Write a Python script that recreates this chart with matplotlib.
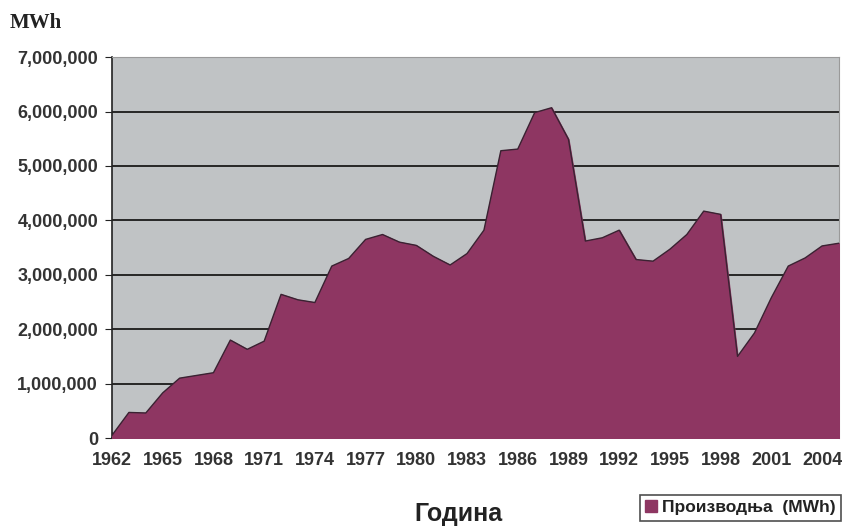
import matplotlib
matplotlib.use('Agg')
from matplotlib import pyplot as plt
from matplotlib.ticker import FuncFormatter, MultipleLocator

# Производња по годинама (MWh), очитано са графика
godine = list(range(1962, 2006))
proizvodnja = [
    50000, 470000, 460000, 830000, 1100000, 1150000, 1200000, 1800000,
    1630000, 1780000, 2640000, 2540000, 2490000, 3160000, 3300000, 3650000,
    3740000, 3600000, 3540000, 3340000, 3180000, 3390000, 3820000, 5280000,
    5310000, 5980000, 6070000, 5490000, 3620000, 3680000, 3820000, 3280000,
    3250000, 3470000, 3740000, 4170000, 4110000, 1500000, 1930000, 2580000,
    3160000, 3310000, 3530000, 3580000,
]
oznake_godina = list(range(1962, 2005, 3))

BOJA_POVRSINE = '#8e3662'
BOJA_POZADINE = '#c0c3c5'
TEKST = '#333333'

fig = plt.figure(figsize=(8.42, 5.29), dpi=100)
ax = fig.add_axes([0.133, 0.172, 0.8634, 0.72])

# Површински графикон
ax.fill_between(godine, proizvodnja, 0, color=BOJA_POVRSINE, zorder=3,
                label='Производња  (MWh)')
ax.plot(godine, proizvodnja, color='#3a2232', lw=1.0, zorder=4)

ax.set_facecolor(BOJA_POZADINE)
ax.set_xlim(1962, 2005)
ax.set_ylim(0, 7000000)

# Линије мреже
ax.yaxis.set_major_locator(MultipleLocator(1000000))
ax.grid(axis='y', color='#1a1a1a', lw=1.3, zorder=2)
ax.yaxis.set_major_formatter(FuncFormatter(lambda v, p: f'{int(v):,}'))

ax.set_xticks(godine, minor=True)
ax.set_xticks(oznake_godina)
ax.tick_params(axis='x', which='both', direction='in', length=4, color='#222222')
ax.tick_params(axis='x', which='major', pad=10)
ax.tick_params(axis='y', direction='out', length=5, color='#222222', pad=5)

for lbl in ax.get_xticklabels() + ax.get_yticklabels():
    lbl.set_fontfamily('Liberation Sans')
    lbl.set_fontweight('bold')
    lbl.set_fontsize(13)
    lbl.set_color(TEKST)

for s in ['top', 'right']:
    ax.spines[s].set_color('#9a9a9a')
    ax.spines[s].set_linewidth(0.8)
for s in ['left', 'bottom']:
    ax.spines[s].set_color('#222222')
    ax.spines[s].set_linewidth(1.2)

# Натписи
fig.text(0.012, 0.957, 'MWh', family='Liberation Serif', fontweight='bold',
         fontsize=15, color='#222222', ha='left', va='center')
fig.text(0.545, 0.029, 'Година', family='Liberation Sans', fontweight='bold',
         fontsize=18, color='#222222', ha='center', va='center')

leg = ax.legend(loc='center right', bbox_to_anchor=(0.999, 0.04),
                bbox_transform=fig.transFigure, frameon=True, fancybox=False,
                prop={'family': 'Liberation Sans', 'weight': 'bold', 'size': 12.5},
                handlelength=0.7, handleheight=0.7, handletextpad=0.3,
                borderpad=0.3, borderaxespad=0)
leg.get_frame().set_edgecolor('#222222')
leg.get_frame().set_linewidth(1.2)
for t in leg.get_texts():
    t.set_color('#222222')

fig.savefig('out.png', dpi=100)
